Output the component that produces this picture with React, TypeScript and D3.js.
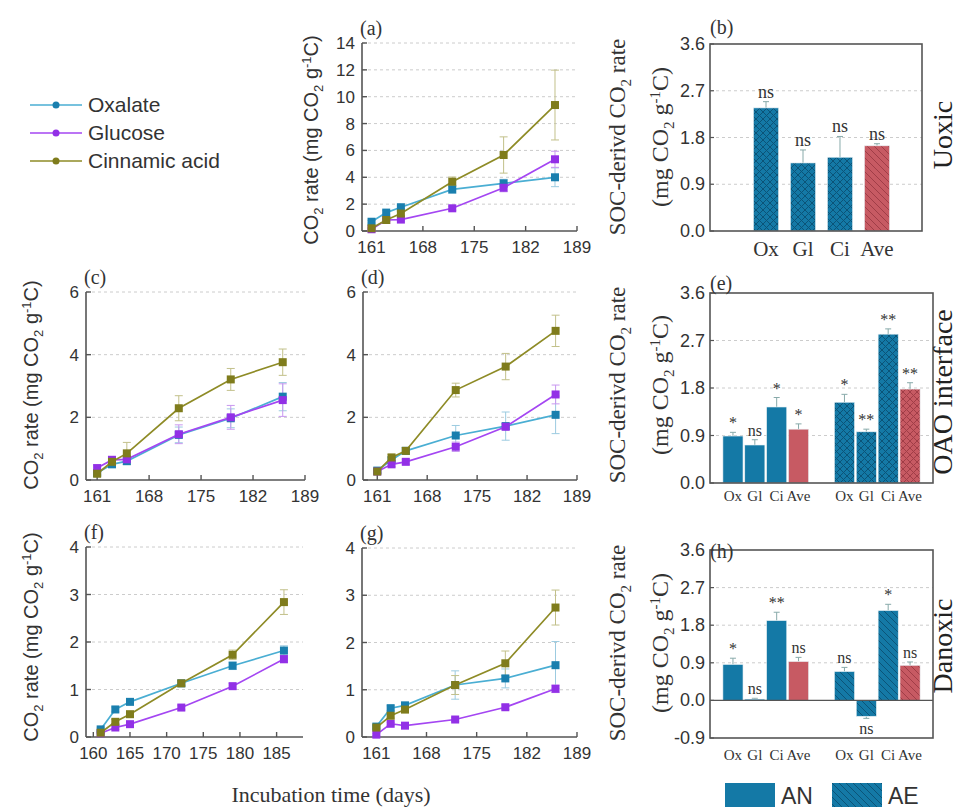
import React from 'react';
import * as d3 from 'd3';

// sampling days
const days = [161, 163, 165, 172, 179, 186];
const seriesNames = ['Oxalate', 'Glucose', 'Cinnamic acid'];

// (a) Uoxic
const oxA = [0.69, 1.37, 1.77, 3.1, 3.55, 4.0];
const glA = [0.13, 0.82, 0.85, 1.69, 3.22, 5.34];
const ciA = [0.2, 0.82, 1.3, 3.67, 5.66, 9.38];
const oxAErr = [0.1, 0.15, 0.1, 0.3, 0.3, 0.7];
const glAErr = [0.05, 0.1, 0.1, 0.15, 0.3, 0.6];
const ciAErr = [0.05, 0.1, 0.15, 0.35, 1.35, 2.6];

// (c) OAO interface, AN
const oxC = [0.22, 0.5, 0.6, 1.44, 1.97, 2.66];
const glC = [0.38, 0.64, 0.66, 1.46, 2.0, 2.55];
const ciC = [0.2, 0.58, 0.85, 2.29, 3.21, 3.76];
const oxCErr = [0.05, 0.1, 0.1, 0.25, 0.3, 0.45];
const glCErr = [0.1, 0.12, 0.1, 0.3, 0.38, 0.52];
const ciCErr = [0.05, 0.1, 0.35, 0.4, 0.35, 0.42];

// (d) OAO interface, AE
const oxD = [0.3, 0.64, 0.93, 1.42, 1.72, 2.08];
const glD = [0.27, 0.5, 0.58, 1.06, 1.7, 2.73];
const ciD = [0.27, 0.72, 0.93, 2.87, 3.62, 4.76];
const oxDErr = [0.05, 0.08, 0.1, 0.32, 0.45, 0.6];
const glDErr = [0.05, 0.08, 0.08, 0.15, 0.1, 0.3];
const ciDErr = [0.05, 0.1, 0.1, 0.22, 0.42, 0.5];

// (f) Danoxic, AN
const oxF = [0.16, 0.58, 0.74, 1.13, 1.5, 1.82];
const glF = [0.08, 0.2, 0.27, 0.62, 1.07, 1.64];
const ciF = [0.09, 0.32, 0.48, 1.13, 1.73, 2.84];
const oxFErr = [0.03, 0.05, 0.05, 0.05, 0.08, 0.1];
const glFErr = [0.02, 0.04, 0.04, 0.05, 0.06, 0.08];
const ciFErr = [0.02, 0.05, 0.06, 0.06, 0.1, 0.26];

// (g) Danoxic, AE
const oxG = [0.22, 0.61, 0.67, 1.1, 1.24, 1.52];
const glG = [0.05, 0.28, 0.24, 0.37, 0.63, 1.02];
const ciG = [0.2, 0.45, 0.58, 1.1, 1.56, 2.74];
const oxGErr = [0.03, 0.05, 0.05, 0.3, 0.2, 0.5];
const glGErr = [0.02, 0.03, 0.03, 0.04, 0.05, 0.08];
const ciGErr = [0.03, 0.05, 0.05, 0.2, 0.26, 0.37];

const xTicks161 = [161, 168, 175, 182, 189];
const xTicks160 = [160, 165, 170, 175, 180, 185];

// bar charts
const cats = ['Ox', 'Gl', 'Ci', 'Ave'];
const bAE = [2.37, 1.31, 1.42, 1.64];
const bAEErr = [0.12, 0.25, 0.4, 0.04];
const bAESig = ['ns', 'ns', 'ns', 'ns'];

const eAN = [0.89, 0.72, 1.44, 1.02];
const eANErr = [0.07, 0.1, 0.18, 0.1];
const eANSig = ['*', 'ns', '*', '*'];
const eAE = [1.53, 0.97, 2.82, 1.78];
const eAEErr = [0.15, 0.05, 0.1, 0.12];
const eAESig = ['*', '**', '**', '**'];

const hAN = [0.86, 0.03, 1.91, 0.93];
const hANErr = [0.15, 0.02, 0.2, 0.1];
const hANSig = ['*', 'ns', '**', 'ns'];
const hAE = [0.69, -0.38, 2.15, 0.84];
const hAEErr = [0.1, 0.05, 0.15, 0.08];
const hAESig = ['ns', 'ns', '*', 'ns'];

const barTicks = [0, 0.9, 1.8, 2.7, 3.6];
const barTicksH = [-0.9, 0, 0.9, 1.8, 2.7, 3.6];

const lineColors = ['#4aaed3', '#a446f2', '#8e8b26'];
const markerColors = ['#1a7fae', '#9230e6', '#7f7c1c'];
const errColors = ['#9ccbe0', '#c898f0', '#c2c08a'];
const blue = '#1479a6';
const red = '#c75a63';
const sans = '"Liberation Sans", Arial, sans-serif';
const serif = '"Liberation Serif", "Times New Roman", serif';
const axisColor = '#555';
const textColor = '#333';

const CO2Label = ({ x, y, size, font }) => (
  <text transform={`translate(${x},${y}) rotate(-90)`} textAnchor="middle"
    fontFamily={font} fontSize={size} fill={textColor}>
    CO<tspan dy={size * 0.25} fontSize={size * 0.65}>2</tspan>
    <tspan dy={-size * 0.25}> rate (mg CO</tspan>
    <tspan dy={size * 0.25} fontSize={size * 0.65}>2</tspan>
    <tspan dy={-size * 0.25}> g</tspan>
    <tspan dy={-size * 0.35} fontSize={size * 0.65}>-1</tspan>
    <tspan dy={size * 0.35}>C)</tspan>
  </text>
);

const SocLabel = ({ x1, x2, y }) => (
  <g>
    <text transform={`translate(${x1},${y}) rotate(-90)`} textAnchor="middle"
      fontFamily={serif} fontSize={23} fill={textColor}>
      SOC-derivd CO<tspan dy={6} fontSize={15}>2</tspan>
      <tspan dy={-6}> rate</tspan>
    </text>
    <text transform={`translate(${x2},${y}) rotate(-90)`} textAnchor="middle"
      fontFamily={serif} fontSize={24} fill={textColor}>
      (mg CO<tspan dy={6} fontSize={15}>2</tspan>
      <tspan dy={-6}> g</tspan>
      <tspan dy={-8} fontSize={15}>-1</tspan>
      <tspan dy={8}>C)</tspan>
    </text>
  </g>
);

const LinePanel = ({ box, yMax, yStep, xDomain, xTicks, series, tag }) => {
  const x = d3.scaleLinear().domain(xDomain).range([box.left, box.right]);
  const y = d3.scaleLinear().domain([0, yMax]).range([box.bottom, box.top]);
  const yTicks = d3.range(0, yMax + 1e-6, yStep);
  const line = d3.line().x((d) => x(d[0])).y((d) => y(d[1]));
  return (
    <g>
      {yTicks.filter((t) => t > 0).map((t) => (
        <line key={t} x1={box.left} x2={box.right} y1={y(t)} y2={y(t)}
          stroke="#ccc" strokeDasharray="3,3" strokeWidth={1} />
      ))}
      <line x1={box.left} x2={box.left} y1={box.top} y2={box.bottom} stroke={axisColor} strokeWidth={1.6} />
      <line x1={box.left} x2={box.right} y1={box.bottom} y2={box.bottom} stroke={axisColor} strokeWidth={1.6} />
      {yTicks.map((t) => (
        <g key={t}>
          <line x1={box.left} x2={box.left + 5} y1={y(t)} y2={y(t)} stroke={axisColor} strokeWidth={1.4} />
          <text x={box.left - 7} y={y(t) + 6} textAnchor="end" fontFamily={sans} fontSize={17} fill={textColor}>{t}</text>
        </g>
      ))}
      {xTicks.map((t) => (
        <g key={t}>
          <line x1={x(t)} x2={x(t)} y1={box.bottom} y2={box.bottom - 5} stroke={axisColor} strokeWidth={1.4} />
          <text x={x(t)} y={box.bottom + 22} textAnchor="middle" fontFamily={sans} fontSize={17} fill={textColor}>{t}</text>
        </g>
      ))}
      {series.map((s, i) => (
        <g key={i}>
          {s.values.map((v, j) => (
            <g key={j} stroke={errColors[i]} strokeWidth={1}>
              <line x1={x(days[j])} x2={x(days[j])} y1={y(v - s.errs[j])} y2={y(v + s.errs[j])} />
              <line x1={x(days[j]) - 4} x2={x(days[j]) + 4} y1={y(v + s.errs[j])} y2={y(v + s.errs[j])} />
              <line x1={x(days[j]) - 4} x2={x(days[j]) + 4} y1={y(v - s.errs[j])} y2={y(v - s.errs[j])} />
            </g>
          ))}
        </g>
      ))}
      {series.map((s, i) => (
        <g key={i}>
          <path d={line(s.values.map((v, j) => [days[j], v]))} fill="none" stroke={lineColors[i]} strokeWidth={1.7} />
          {s.values.map((v, j) => (
            <rect key={j} x={x(days[j]) - 4} y={y(v) - 4} width={8} height={8} fill={markerColors[i]} />
          ))}
        </g>
      ))}
      <text x={box.left - 2} y={box.top - 8} fontFamily={serif} fontSize={20} fill={textColor}>{tag}</text>
    </g>
  );
};

const BarPanel = ({ box, domain, ticks, groups, range, pOuter, pInner, pBar, hatch, catSize, sigSize, catDy, tag, tagDy }) => {
  const y = d3.scaleLinear().domain(domain).range([box.bottom, box.top]);
  const outer = d3.scaleBand().domain(groups.map((g) => g.key)).range(range)
    .paddingInner(pInner).paddingOuter(pOuter);
  const inner = d3.scaleBand().domain(cats).range([0, outer.bandwidth()]).padding(pBar);
  const fillFor = (g, ci) => {
    const base = ci === 3 ? 'red' : 'blue';
    if (!g.hatched) return ci === 3 ? red : blue;
    let kind = hatch;
    if (hatch === 'mixed') kind = ci === 3 ? 'diag' : 'cross';
    return `url(#${kind}-${base})`;
  };
  return (
    <g>
      {ticks.filter((t) => t !== domain[0] && t !== domain[1] && t !== 0).map((t) => (
        <line key={t} x1={box.left} x2={box.right} y1={y(t)} y2={y(t)} stroke="#ccc" strokeDasharray="3,3" />
      ))}
      {groups.map((g) => g.values.map((v, ci) => {
        const bx = outer(g.key) + inner(cats[ci]);
        const bw = inner.bandwidth();
        const cx = bx + bw / 2;
        const e = g.errs[ci];
        const tipY = v >= 0 ? y(v + e) : y(v - e);
        return (
          <g key={g.key + ci}>
            <line x1={cx} x2={cx} y1={y(v)} y2={tipY} stroke="#8aa" strokeWidth={1} />
            <line x1={cx - 3} x2={cx + 3} y1={tipY} y2={tipY} stroke="#8aa" strokeWidth={1} />
            <rect x={bx} y={Math.min(y(v), y(0))} width={bw} height={Math.abs(y(v) - y(0))}
              fill={fillFor(g, ci)} stroke="#e8f0f4" strokeWidth={0.6} />
            <text x={cx} y={v >= 0 ? tipY - 4 : tipY + sigSize}
              textAnchor="middle" fontFamily={serif} fontSize={sigSize} fill={textColor}>{g.sig[ci]}</text>
            <text x={cx} y={box.bottom + catDy} textAnchor="middle" fontFamily={serif} fontSize={catSize} fill={textColor}>{cats[ci]}</text>
          </g>
        );
      }))}
      {domain[0] < 0 && (
        <line x1={box.left} x2={box.right} y1={y(0)} y2={y(0)} stroke={axisColor} strokeWidth={1.4} />
      )}
      <rect x={box.left} y={box.top} width={box.right - box.left} height={box.bottom - box.top}
        fill="none" stroke={axisColor} strokeWidth={1.6} />
      {ticks.map((t) => (
        <g key={t}>
          <line x1={box.left} x2={box.left + 4} y1={y(t)} y2={y(t)} stroke={axisColor} strokeWidth={1.2} />
          <text x={box.left - 5} y={y(t) + 6} textAnchor="end" fontFamily={sans} fontSize={18} fill={textColor}>{t.toFixed(1)}</text>
        </g>
      ))}
      <text x={box.left} y={box.top + tagDy} fontFamily={serif} fontSize={20} fill={textColor}>{tag}</text>
    </g>
  );
};

const Hatch = ({ id, base, line, cross }) => (
  <pattern id={id} patternUnits="userSpaceOnUse" width={7} height={7}>
    <rect width={7} height={7} fill={base} />
    <path d="M-1,-1 L8,8 M-1,6 L1,8 M6,-1 L8,1" stroke={line} strokeWidth={1} />
    {cross && <path d="M-1,8 L8,-1 M-1,1 L1,-1 M6,8 L8,6" stroke={line} strokeWidth={1} />}
  </pattern>
);

const mk = (vals, errs) => vals.map((v, i) => ({ values: v, errs: errs[i] }));

export default function App() {
  return (
    <svg width={960} height={811} style={{ position: 'absolute', left: 0, top: 0, background: '#fff' }}>
      <defs>
        <Hatch id="diag-blue" base={blue} line="#0b5478" />
        <Hatch id="cross-blue" base={blue} line="#0b5478" cross />
        <Hatch id="diag-red" base={red} line="#a03d47" />
        <Hatch id="cross-red" base={red} line="#a03d47" cross />
      </defs>
      <rect width={960} height={811} fill="#fff" />

      {/* legend */}
      {seriesNames.map((n, i) => (
        <g key={n}>
          <line x1={30} x2={82} y1={105 + i * 28} y2={105 + i * 28} stroke={lineColors[i]} strokeWidth={1.5} />
          <circle cx={56} cy={105 + i * 28} r={3.5} fill={markerColors[i]} />
          <text x={88} y={112 + i * 28} fontFamily={sans} fontSize={21} fill={textColor}>{n}</text>
        </g>
      ))}

      <LinePanel tag="(a)" box={{ left: 362, right: 577, top: 43, bottom: 231 }} yMax={14} yStep={2}
        xDomain={[159.7, 189]} xTicks={xTicks161}
        series={mk([oxA, glA, ciA], [oxAErr, glAErr, ciAErr])} />
      <CO2Label x={318} y={140} size={20} font={sans} />

      <LinePanel tag="(c)" box={{ left: 86, right: 305, top: 292, bottom: 480 }} yMax={6} yStep={2}
        xDomain={[159.5, 189]} xTicks={xTicks161}
        series={mk([oxC, glC, ciC], [oxCErr, glCErr, ciCErr])} />
      <CO2Label x={38} y={385} size={20} font={sans} />

      <LinePanel tag="(d)" box={{ left: 363, right: 577, top: 292, bottom: 480 }} yMax={6} yStep={2}
        xDomain={[159, 189]} xTicks={xTicks161}
        series={mk([oxD, glD, ciD], [oxDErr, glDErr, ciDErr])} />

      <LinePanel tag="(f)" box={{ left: 86, right: 303, top: 547, bottom: 737 }} yMax={4} yStep={1}
        xDomain={[159, 188.6]} xTicks={xTicks160}
        series={mk([oxF, glF, ciF], [oxFErr, glFErr, ciFErr])} />
      <CO2Label x={38} y={637} size={20} font={sans} />

      <LinePanel tag="(g)" box={{ left: 362, right: 577, top: 548, bottom: 737 }} yMax={4} yStep={1}
        xDomain={[159, 189]} xTicks={xTicks161}
        series={mk([oxG, glG, ciG], [oxGErr, glGErr, ciGErr])} />

      <BarPanel tag="(b)" tagDy={-10} box={{ left: 710, right: 922, top: 44, bottom: 231 }} domain={[0, 3.6]} ticks={barTicks}
        groups={[{ key: 'AE', values: bAE, errs: bAEErr, sig: bAESig, hatched: true }]}
        range={[741.6, 901.4]} pOuter={0} pInner={0} pBar={0.32} hatch="mixed"
        catSize={21} sigSize={18} catDy={25} />
      <SocLabel x1={625} x2={668} y={137} />
      <text transform="translate(952,135) rotate(-90)" textAnchor="middle" fontFamily={serif} fontSize={28} fill="#222">Uoxic</text>

      <BarPanel tag="(e)" tagDy={-3} box={{ left: 710, right: 933, top: 293, bottom: 483 }} domain={[0, 3.6]} ticks={barTicks}
        groups={[
          { key: 'AN', values: eAN, errs: eANErr, sig: eANSig, hatched: false },
          { key: 'AE', values: eAE, errs: eAEErr, sig: eAESig, hatched: true },
        ]}
        range={[710, 933]} pOuter={0.1} pInner={0.2} pBar={0.08} hatch="cross"
        catSize={15} sigSize={16} catDy={18} />
      <SocLabel x1={625} x2={668} y={385} />
      <text transform="translate(952,392) rotate(-90)" textAnchor="middle" fontFamily={serif} fontSize={28} fill="#222">OAO interface</text>

      <BarPanel tag="(h)" tagDy={8} box={{ left: 710, right: 933, top: 550, bottom: 738 }} domain={[-0.9, 3.6]} ticks={barTicksH}
        groups={[
          { key: 'AN', values: hAN, errs: hANErr, sig: hANSig, hatched: false },
          { key: 'AE', values: hAE, errs: hAEErr, sig: hAESig, hatched: true },
        ]}
        range={[710, 933]} pOuter={0.1} pInner={0.2} pBar={0.08} hatch="diag"
        catSize={15} sigSize={16} catDy={22} />
      <SocLabel x1={625} x2={668} y={643} />
      <text transform="translate(952,646) rotate(-90)" textAnchor="middle" fontFamily={serif} fontSize={28} fill="#222">Danoxic</text>

      <text x={331} y={802} textAnchor="middle" fontFamily={serif} fontSize={22} fill={textColor}>Incubation time (days)</text>

      <rect x={725} y={783} width={50} height={24} fill={blue} />
      <text x={781} y={804} fontFamily={sans} fontSize={23} fill={textColor}>AN</text>
      <rect x={832} y={783} width={50} height={24} fill="url(#diag-blue)" />
      <text x={888} y={804} fontFamily={sans} fontSize={23} fill={textColor}>AE</text>
    </svg>
  );
}
